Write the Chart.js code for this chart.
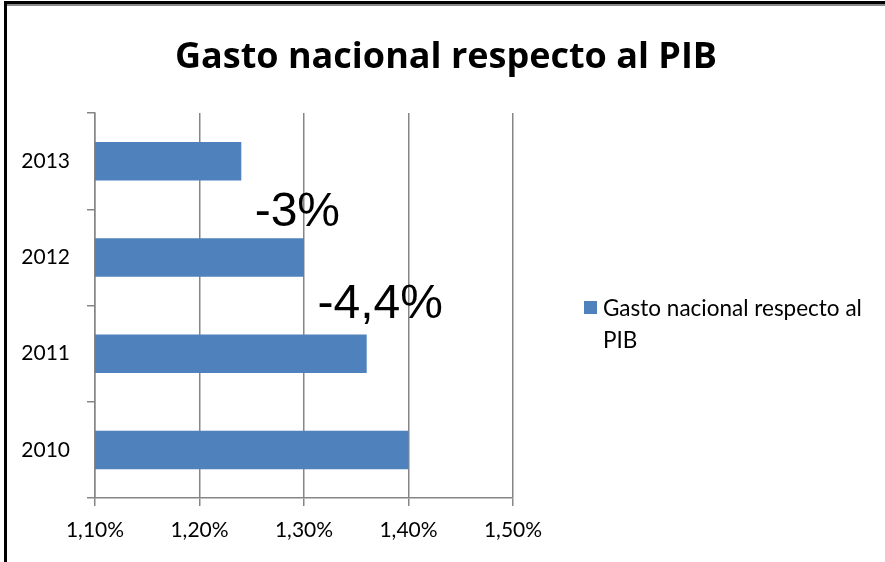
<!DOCTYPE html>
<html>
<head>
<meta charset="utf-8">
<script src="https://cdn.jsdelivr.net/npm/chart.js@4/dist/chart.umd.min.js"></script>
<style>
html,body{margin:0;padding:0;background:#fff;}
#wrap{position:relative;width:885px;height:562px;}
</style>
</head>
<body>
<div id="wrap"><canvas id="c" width="885" height="562"></canvas></div>
<script>
const categories = ["2013", "2012", "2011", "2010"];
const values = [1.24, 1.30, 1.36, 1.40];
const tickValues = [1.10, 1.20, 1.30, 1.40, 1.50];
const seriesName = "Gasto nacional respecto al PIB";
const chartTitle = "Gasto nacional respecto al PIB";
const annotations = [
  { text: "-3%", x: 1.1 + (255 - 95) / 1047, category: 0.5 },
  { text: "-4,4%", x: 1.1 + (318 - 95) / 1047, category: 1.45 }
];

const frame = {
  id: 'frame',
  beforeDraw(chart) {
    const ctx = chart.ctx;
    ctx.save();
    ctx.fillStyle = '#fff';
    ctx.fillRect(0, 0, chart.width, chart.height);
    ctx.fillStyle = '#000';
    ctx.fillRect(4, 1, chart.width - 4, 3);
    ctx.fillRect(4, 1, 3, chart.height);
    ctx.fillStyle = '#8a8a8a';
    ctx.fillRect(7, 4, chart.width - 7, 2);
    ctx.restore();
  }
};

const extras = {
  id: 'extras',
  afterDraw(chart) {
    const ctx = chart.ctx;
    const xs = chart.scales.x, ys = chart.scales.y;
    ctx.save();
    // title centred on the whole canvas
    ctx.fillStyle = '#000';
    ctx.font = 'bold 36px "Open Sans", Lato, sans-serif';
    ctx.textAlign = 'center';
    ctx.textBaseline = 'alphabetic';
    ctx.fillText(chartTitle, 446, 68);
    // annotations
    ctx.font = '48px "Liberation Sans", Arial, sans-serif';
    ctx.textAlign = 'left';
    annotations.forEach(a => {
      const px = xs.getPixelForValue(a.x);
      const py = ys.getPixelForValue(a.category);
      ctx.fillText(a.text, px, py + 17);
    });
    // legend
    const ds = chart.data.datasets[0];
    ctx.fillStyle = ds.backgroundColor;
    ctx.fillRect(584, 301, 13, 13);
    ctx.fillStyle = '#000';
    ctx.font = '22.5px Lato, "Open Sans", sans-serif';
    ctx.textBaseline = 'middle';
    const words = ds.label.split(' ');
    const line1 = words.slice(0, 4).join(' ');
    const line2 = words.slice(4).join(' ');
    ctx.fillText(line1, 603, 309);
    ctx.fillText(line2, 603, 341);
    ctx.restore();
  }
};

new Chart(document.getElementById('c'), {
  type: 'bar',
  data: {
    labels: categories,
    datasets: [{
      label: seriesName,
      data: values,
      backgroundColor: '#4F81BD',
      borderWidth: 0,
      categoryPercentage: 1.0,
      barPercentage: 0.4
    }]
  },
  options: {
    indexAxis: 'y',
    responsive: false,
    animation: false,
    devicePixelRatio: 1,
    layout: { padding: { left: 0, right: 372, top: 113, bottom: 0 } },
    plugins: {
      legend: { display: false },
      tooltip: { enabled: false },
      title: { display: false }
    },
    scales: {
      x: {
        min: 1.1,
        max: 1.5,
        afterBuildTicks(scale) { scale.ticks = tickValues.map(v => ({ value: v })); },
        afterFit(scale) { scale.height = 64; },
        grid: {
          color: '#868686',
          lineWidth: 1.5,
          tickLength: 8,
          drawTicks: true
        },
        border: { color: '#868686', width: 1.5 },
        ticks: {
          color: '#000',
          padding: 12,
          font: { family: 'Lato, "Open Sans", sans-serif', size: 21 },
          callback: v => v.toFixed(2).replace('.', ',') + '%'
        }
      },
      y: {
        afterFit(scale) { scale.width = 95; },
        grid: {
          display: true,
          drawOnChartArea: false,
          color: '#868686',
          lineWidth: 1.5,
          tickLength: 8,
          offset: true
        },
        border: { color: '#868686', width: 1.5 },
        ticks: {
          color: '#000',
          padding: 17,
          font: { family: 'Lato, "Open Sans", sans-serif', size: 21 }
        }
      }
    }
  },
  plugins: [frame, extras]
});
</script>
</body>
</html>
